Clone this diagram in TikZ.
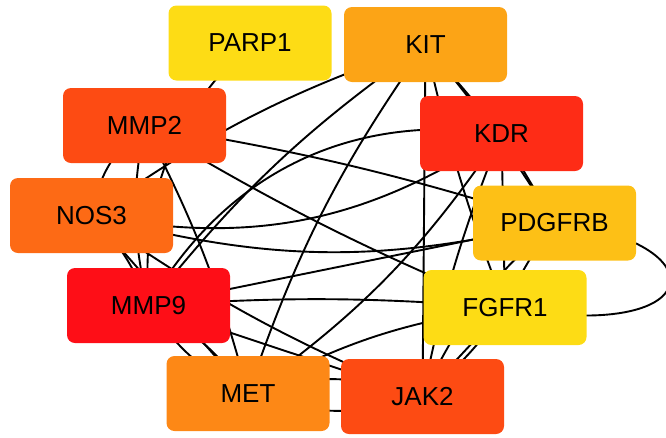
\documentclass[tikz,border=0pt]{standalone}
\usepackage{fontspec}
\setmainfont{Liberation Sans}
\usetikzlibrary{backgrounds}
\definecolor{cYellow}{HTML}{FDDC15}
\definecolor{cKit}{HTML}{FCA416}
\definecolor{cMmpTwo}{HTML}{FD4B13}
\definecolor{cKdr}{HTML}{FE2C16}
\definecolor{cNos}{HTML}{FD6A15}
\definecolor{cPdg}{HTML}{FDC016}
\definecolor{cMmpNine}{HTML}{FE0E17}
\definecolor{cMet}{HTML}{FD8816}
\tikzset{
  gene/.style={rectangle, rounded corners=8pt, minimum width=163pt, minimum height=75pt,
    inner sep=0pt, draw=none, font=\fontsize{26}{31}\selectfont, text=black},
  link/.style={draw=black, line width=1.9pt}
}
\begin{document}
\begin{tikzpicture}[x=1pt,y=-1pt]
\useasboundingbox (0,0) rectangle (666,437);
% genes
\node[gene, fill=cYellow]  (PARP1)  at (250,43)    {PARP1};
\node[gene, fill=cKit]     (KIT)    at (425.5,44.5) {KIT};
\node[gene, fill=cMmpTwo]  (MMP2)   at (144.5,125.5) {MMP2};
\node[gene, fill=cKdr]     (KDR)    at (501.5,133.5) {KDR};
\node[gene, fill=cNos]     (NOS3)   at (91.5,215.5) {NOS3};
\node[gene, fill=cPdg]     (PDGFRB) at (554.5,223)  {PDGFRB};
\node[gene, fill=cMmpNine] (MMP9)   at (148.5,305.5) {MMP9};
\node[gene, fill=cYellow]  (FGFR1)  at (505,307.5)  {FGFR1};
\node[gene, fill=cMet]     (MET)    at (248,393.5)  {MET};
\node[gene, fill=cMmpTwo]  (JAK2)   at (422.5,396.5) {JAK2};
% interactions
\begin{scope}[on background layer]
\clip (0,0) rectangle (666,437);
\draw[link] (PARP1.center) to[bend right=25] (MMP9.center);
\draw[link] (MMP2.center) to[bend left=4] (PDGFRB.center);
\draw[link] (MMP2.center) to[bend right=4] (FGFR1.center);
\draw[link] (MMP2.center) to[bend right=20] (NOS3.center);
\draw[link] (MMP2.center) to[bend right=12] (MMP9.center);
\draw[link] (MMP2.center) to[bend left=6] (MET.center);
\draw[link] (NOS3.center) to[bend left=12] (MMP9.center);
\draw[link] (NOS3.center) to (MET.center);
\draw[link] (NOS3.center) to[bend right=6] (JAK2.center);
\draw[link] (NOS3.center) to[bend right=22] (KDR.center);
\draw[link] (NOS3.center) to[bend right=14] (PDGFRB.center);
\draw[link] (NOS3.center) to[bend left=8] (KIT.center);
\draw[link] (MMP9.center) to[bend left=34] (KDR.center);
\draw[link] (MMP9.center) to[bend left=8] (KIT.center);
\draw[link] (MMP9.center) to (PDGFRB.center);
\draw[link] (MMP9.center) to (JAK2.center);
\draw[link] (MMP9.center) to[bend right=15] (MET.center);
\draw[link] (MMP9.center) to[bend left=12] (MET.center);
\draw[link] (MMP9.center) to[bend left=4] (FGFR1.center);
\draw[link] (KIT.center) to (KDR.center);
\draw[link] (KIT.center) to[bend left=4] (PDGFRB.center);
\draw[link] (KIT.center) to (JAK2.center);
\draw[link] (KIT.center) to[bend right=4] (FGFR1.center);
\draw[link] (KIT.center) to[bend right=8] (MET.center);
\draw[link] (KDR.center) to (PDGFRB.center);
\draw[link] (KDR.center) to (FGFR1.center);
\draw[link] (KDR.center) to[bend right=5] (JAK2.center);
\draw[link] (KDR.center) to[bend left=10] (MET.center);
\draw[link] (PDGFRB.center) to[bend right=6] (FGFR1.center);
\draw[link] (PDGFRB.center) .. controls (720,240) and (712,345) .. (FGFR1.center);
\draw[link] (PDGFRB.center) to[bend right=12] (JAK2.center);
\draw[link] (FGFR1.center) to (JAK2.center);
\draw[link] (FGFR1.center) to[bend left=8] (JAK2.center);
\draw[link] (MET.center) to[bend left=18] (JAK2.center);
\draw[link] (MET.center) to[bend right=18] (JAK2.center);
\draw[link] (MET.center) to[bend left=10] (FGFR1.center);
\end{scope}
\end{tikzpicture}
\end{document}
